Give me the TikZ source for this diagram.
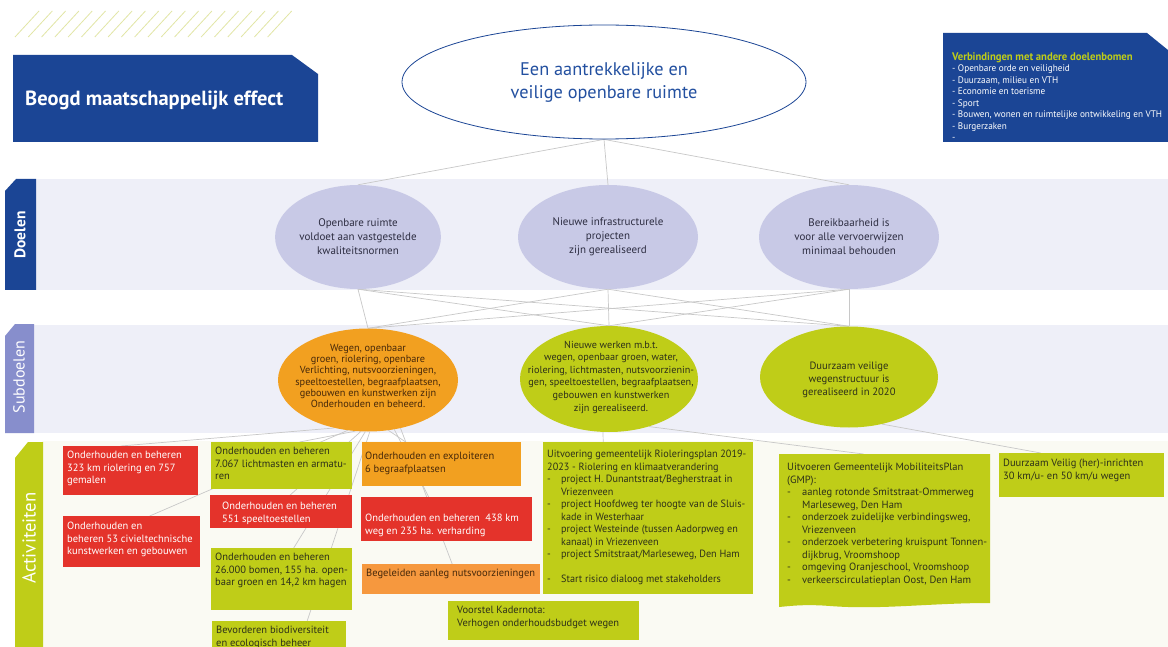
\documentclass[tikz,border=0pt]{standalone}
\usepackage{fontspec}
\setmainfont{PT Sans}
\newfontfamily\cnd{PT Sans}[FakeStretch=0.97]
\usetikzlibrary{shapes.geometric,calc}
\pgfdeclarelayer{bands}
\pgfdeclarelayer{lines}
\pgfsetlayers{bands,lines,main}
\definecolor{dblue}{RGB}{27,69,149}
\definecolor{lime}{RGB}{191,205,24}
\definecolor{rred}{RGB}{228,51,43}
\definecolor{oor}{RGB}{242,160,32}
\definecolor{oortwo}{RGB}{246,152,62}
\definecolor{lav}{RGB}{200,201,230}
\definecolor{bandc}{RGB}{238,239,248}
\definecolor{subtab}{RGB}{135,142,204}
\definecolor{actband}{RGB}{250,250,243}
\definecolor{connc}{RGB}{200,200,200}
\definecolor{hatchc}{RGB}{226,230,165}
\definecolor{gtxt}{RGB}{45,48,25}
\definecolor{otxt}{RGB}{70,40,10}
\definecolor{etxt}{RGB}{45,45,65}
\definecolor{ttxt}{RGB}{35,80,160}
\newcommand\itm{\makebox[14pt][l]{-}}
\newcommand\ind{\hspace*{14pt}}
\newcommand\itmb{\makebox[15pt][l]{-}}
\newcommand\indb{\hspace*{15pt}}
\tikzset{
  conn/.style={draw=connc, line width=0.7},
  goal/.style={ellipse, fill=lav, inner sep=0, align=center, text=etxt,
     font=\fontsize{11}{14}\selectfont},
  subg/.style={ellipse, inner sep=0},
  subt/.style={inner sep=0, align=center},
  abox/.style={rectangle, inner sep=0, anchor=north west},
  btxt/.style={anchor=north west, inner sep=0, align=left,
     font=\fontsize{10.5}{12.5}\selectfont},
  tabtxt/.style={rotate=90, text=white, inner sep=0},
}
\newcommand\actbox[6]{\node[abox, fill=#6, minimum width=#4, minimum height=#5] (#1) at (#2,#3) {};}
\begin{document}
\begin{tikzpicture}[x=1pt,y=-1pt]
\useasboundingbox (0,0) rectangle (1168,647);
\begin{pgfonlayer}{bands}
\fill[white] (0,0) rectangle (1168,647);
\foreach \i in {0,...,19} \draw[hatchc, line width=0.8] (15+\i*13.3,37) -- (39+\i*13.3,11);
% title box
\fill[dblue] (13,55) -- (292,55) -- (318,74) -- (318,142) -- (13,142) -- cycle;
% top right box
\fill[dblue] (943,33) -- (1147,33) -- (1168,50) -- (1168,142) -- (943,142) -- cycle;
% bands
\fill[bandc] (36,179) rectangle (1168,290);
\fill[dblue] (5,191) -- (16,179) -- (36,179) -- (36,290) -- (5,290) -- cycle;
\fill[bandc] (34,325) rectangle (1168,433);
\fill[subtab] (5,336) -- (15,324) -- (34,324) -- (34,433) -- (5,433) -- cycle;
\fill[actband] (42,441) rectangle (1168,647);
\fill[lime] (15,458) -- (28,442) -- (43,442) -- (43,647) -- (15,647) -- cycle;
% GMP box with wavy bottom edge
\end{pgfonlayer}

\node[anchor=west, text=white, inner sep=0, font=\bfseries\fontsize{20.5}{24}\selectfont] (eff) at (25,100) {Beogd maatschappelijk effect};
\node[btxt, text=white, font=\cnd\fontsize{9.5}{11.5}\selectfont] (links) at (952,52)
 {\textcolor{lime}{\bfseries\fontsize{11}{11.5}\selectfont Verbindingen met andere doelenbomen}\\
  - Openbare orde en veiligheid\\
  - Duurzaam, milieu en VTH\\
  - Economie en toerisme\\
  - Sport\\
  - Bouwen, wonen en ruimtelijke ontwikkeling en VTH\\
  - Burgerzaken\\
  -};

\node[tabtxt, font=\bfseries\fontsize{15.5}{18}\selectfont] (lbd) at (20,235) {Doelen};
\node[tabtxt, font=\fontsize{16}{18}\selectfont] (lbs) at (19,377) {Subdoelen};
\node[tabtxt, font=\fontsize{18.7}{20}\selectfont] (lba) at (29,538) {Activiteiten};

\node[ellipse, draw=dblue, line width=0.8, fill=white, minimum width=404, minimum height=114,
  inner sep=0, align=center, text=ttxt, font=\fontsize{18.3}{23}\selectfont] (top) at (604,82)
  {Een aantrekkelijke en\\veilige openbare ruimte};

\node[goal, minimum width=160, minimum height=104] (d1) at (358,237) {Openbare ruimte\\voldoet aan vastgestelde\\kwaliteitsnormen};
\node[goal, minimum width=180, minimum height=104] (d2) at (608,237) {Nieuwe infrastructurele\\projecten\\zijn gerealiseerd};
\node[goal, minimum width=180, minimum height=104] (d3) at (849,237) {Bereikbaarheid is\\voor alle vervoerwijzen\\minimaal behouden};

\node[subg, fill=oor, minimum width=180, minimum height=103] (s1) at (368,380) {};
\node[subt, text=otxt, font=\fontsize{10.3}{11.2}\selectfont] (s1t) at (368,376)
 {Wegen, openbaar\\groen, riolering, openbare\\Verlichting, nutsvoorzieningen,\\speeltoestellen, begraafplaatsen,\\gebouwen en kunstwerken zijn\\Onderhouden en beheerd.};
\node[subg, fill=lime, minimum width=178, minimum height=106] (s2) at (609,379) {};
\node[subt, text=gtxt, font=\fontsize{10.2}{12.6}\selectfont] (s2t) at (611,377)
 {Nieuwe werken m.b.t.\\wegen, openbaar groen, water,\\riolering, lichtmasten, nutsvoorzienin-\\gen, speeltoestellen, begraafplaatsen,\\gebouwen en kunstwerken\\zijn gerealiseerd.};
\node[subg, fill=lime, minimum width=178, minimum height=101] (s3) at (849,377) {};
\node[subt, text=gtxt, font=\fontsize{10.6}{13}\selectfont] (s3t) at (849,380)
 {Duurzaam veilige\\wegenstructuur is\\gerealiseerd in 2020};

% activity boxes
\actbox{b1}{63}{446}{135}{49}{rred}
\actbox{b2}{63}{516}{137}{51}{rred}
\actbox{b3}{211}{442}{141}{47}{lime}
\actbox{b4}{210}{495}{142}{33}{rred}
\actbox{b5}{211}{548}{141}{62}{lime}
\actbox{b6}{212}{621}{134}{30}{lime}
\actbox{b7}{362}{442}{159}{44}{oor}
\actbox{b8}{361}{497}{171}{44}{rred}
\actbox{b9}{362}{564}{178}{30}{oortwo}
\actbox{b10}{448}{601}{191}{39}{lime}
\actbox{b11}{543}{442}{210}{152}{lime}
\node[inner sep=0] (b12) at (884.5,530) {};
\fill[lime] (779,454) -- (990,454) -- (990,603) .. controls (930,603) and (880,610) .. (830,606) .. controls (805,604) and (790,606) .. (779,607) -- cycle;
\coordinate (b12n) at (884.5,454);
\actbox{b13}{999}{453}{165}{44}{lime}

\node[btxt, text=white] (t1) at ([shift={(4,5)}]b1.north west) {Onderhouden en beheren\\323 km riolering en 757\\gemalen};
\node[btxt, text=white] (t2) at ([shift={(4,6)}]b2.north west) {Onderhouden en\\beheren 53 civieltechnische\\kunstwerken en gebouwen};
\node[btxt, text=gtxt] (t3) at ([shift={(4,5)}]b3.north west) {Onderhouden en beheren\\7.067 lichtmasten en armatu-\\ren};
\node[btxt, text=white] (t4) at ([shift={(12,7)}]b4.north west) {Onderhouden en beheren\\551 speeltoestellen};
\node[btxt, text=gtxt] (t5) at ([shift={(4,5)}]b5.north west) {Onderhouden en beheren\\26.000 bomen, 155 ha. open-\\baar groen en 14,2 km hagen};
\node[btxt, text=gtxt] (t6) at ([shift={(4,5)}]b6.north west) {Bevorderen biodiversiteit\\en ecologisch beheer};
\node[btxt, text=otxt] (t7) at ([shift={(3,10)}]b7.north west) {Onderhouden en exploiteren\\6 begraafplaatsen};
\node[btxt, text=white] (t8) at ([shift={(4,17)}]b8.north west) {Onderhouden en beheren~ 438 km\\weg en 235 ha. verharding};
\node[btxt, text=otxt] (t9) at ([shift={(4,5)}]b9.north west) {Begeleiden aanleg nutsvoorzieningen};
\node[btxt, text=gtxt] (t10) at ([shift={(9,5)}]b10.north west) {Voorstel Kadernota:\\Verhogen onderhoudsbudget wegen};
\node[btxt, text=gtxt, font=\cnd\fontsize{10.5}{12.5}\selectfont] (t11) at ([shift={(4,8)}]b11.north west)
 {Uitvoering gemeentelijk Rioleringsplan 2019-\\
  2023 - Riolering en klimaatverandering\\
  \itm project H. Dunantstraat/Begherstraat in\\
  \ind Vriezenveen\\
  \itm project Hoofdweg ter hoogte van de Sluis-\\
  \ind kade in Westerhaar\\
  \itm project Westeinde (tussen Aadorpweg en\\
  \ind kanaal) in Vriezenveen\\
  \itm project Smitstraat/Marleseweg, Den Ham\\[12.5pt]
  \itm Start risico dialoog met stakeholders};
\node[btxt, text=gtxt] (t12) at (787,463)
 {Uitvoeren Gemeentelijk MobiliteitsPlan\\
  (GMP):\\
  \itmb aanleg rotonde Smitstraat-Ommerweg\\
  \indb Marleseweg, Den Ham\\
  \itmb onderzoek zuidelijke verbindingsweg,\\
  \indb Vriezenveen\\
  \itmb onderzoek verbetering kruispunt Tonnen-\\
  \indb dijkbrug, Vroomshoop\\
  \itmb omgeving Oranjeschool, Vroomshoop\\
  \itmb verkeerscirculatieplan Oost, Den Ham};
\node[btxt, text=gtxt] (t13) at ([shift={(4,6)}]b13.north west) {Duurzaam Veilig (her)-inrichten\\30 km/u- en 50 km/u wegen};

\begin{pgfonlayer}{lines}
\foreach \d in {d1,d2,d3} \draw[conn] (top.south) -- (\d.north);
\foreach \d in {d1,d2,d3} \foreach \s in {s1,s2,s3} \draw[conn] (\d.south) -- (\s.north);
\draw[conn] (s1.235) -- ([xshift=-10]b1.north);
\draw[conn] (s1.248) -- ([xshift=18]b2.north);
\draw[conn] (s1.256) -- ([xshift=18]b3.north);
\draw[conn] (s1.262) -- ([xshift=9]b4.north);
\draw[conn] (s1.267) -- ([xshift=12]b5.north);
\draw[conn] (s1.272) -- ([xshift=28]b6.north);
\draw[conn] (s1.292) -- ([xshift=-36]b7.north);
\draw[conn] (s1.298) -- ([xshift=-18]b8.north);
\draw[conn] (s1.304) -- ([xshift=1]b9.north);
\draw[conn] ([xshift=-6]s2.south) -- ([xshift=-45]b11.north);
\draw[conn] (s2.310) -- ([xshift=-21]b12n);
\draw[conn] (s3.305) -- ([xshift=-41]b13.north);
\end{pgfonlayer}
\end{tikzpicture}
\end{document}
